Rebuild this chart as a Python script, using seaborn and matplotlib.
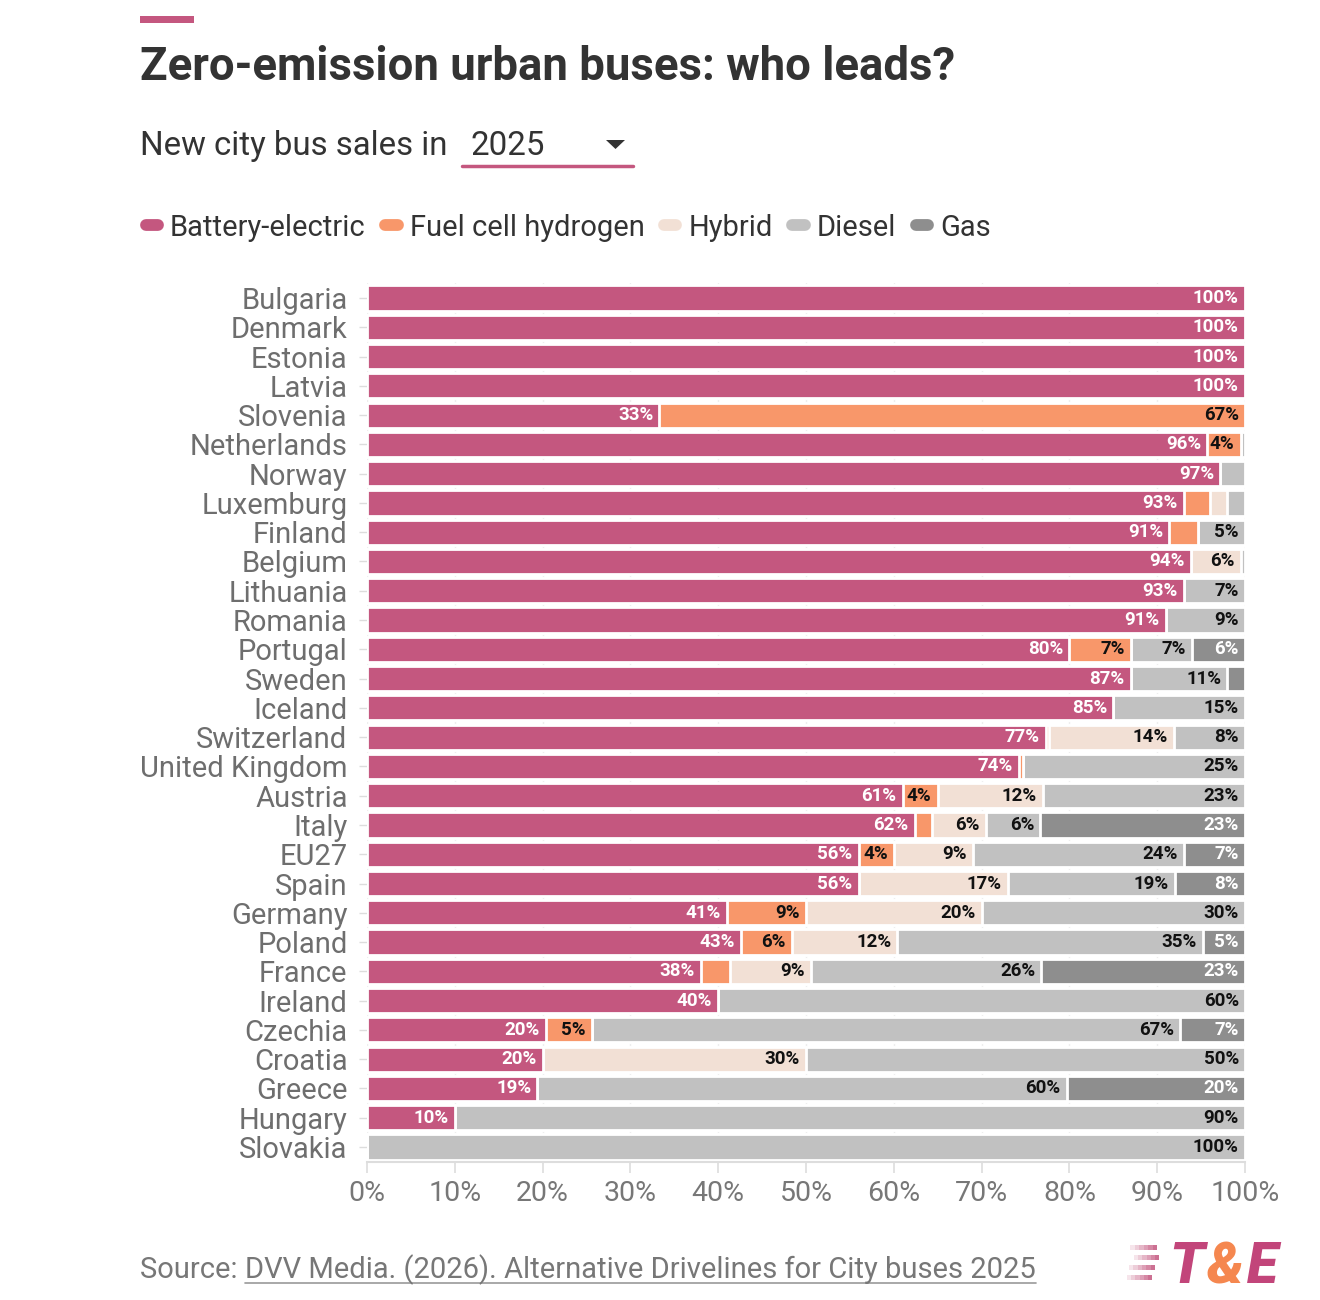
import numpy as np
import pandas as pd
import matplotlib.pyplot as plt
import seaborn as sns
from matplotlib.lines import Line2D
from matplotlib.patches import Rectangle

# ---- data (share of new city bus sales, %) ----
countries = ["Bulgaria", "Denmark", "Estonia", "Latvia", "Slovenia", "Netherlands",
             "Norway", "Luxemburg", "Finland", "Belgium", "Lithuania", "Romania",
             "Portugal", "Sweden", "Iceland", "Switzerland", "United Kingdom",
             "Austria", "Italy", "EU27", "Spain", "Germany", "Poland", "France",
             "Ireland", "Czechia", "Croatia", "Greece", "Hungary", "Slovakia"]
battery = [100, 100, 100, 100, 33.3, 95.7, 97.2, 93, 91.4, 93.8, 93, 91, 80, 87, 85,
           77.3, 74.3, 61, 62.4, 56, 56, 41, 42.6, 38, 40, 20.4, 20, 19.4, 10, 0]
fuel_cell = [0, 0, 0, 0, 66.7, 3.8, 0, 3, 3.3, 0, 0, 0, 7, 0, 0,
             0.4, 0.4, 4, 1.9, 4, 0, 9, 5.8, 3.4, 0, 5.2, 0, 0, 0, 0]
hybrid = [0, 0, 0, 0, 0, 0, 0, 2, 0, 5.7, 0, 0, 0, 0, 0,
          14.2, 0, 12, 6.2, 9, 17, 20, 12, 9.2, 0, 0, 30, 0, 0, 0]
diesel = [0, 0, 0, 0, 0, 0.5, 2.8, 2, 5.3, 0.5, 7, 9, 7, 11, 15,
          8.1, 25.3, 23, 6.2, 24, 19, 30, 34.8, 26.2, 60, 67, 50, 60.3, 90, 100]
gas = [0, 0, 0, 0, 0, 0, 0, 0, 0, 0, 0, 0, 6, 2, 0,
       0, 0, 0, 23.3, 7, 8, 0, 4.8, 23.2, 0, 7.4, 0, 20.3, 0, 0]

series_names = ["Battery-electric", "Fuel cell hydrogen", "Hybrid", "Diesel", "Gas"]
series_colors = ["#c4577f", "#f8976a", "#f2e0d5", "#c1c1c1", "#8e8e8e"]
label_colors = ["white", "#111111", "#111111", "#111111", "white"]
x_ticks = list(range(0, 101, 10))

df = pd.DataFrame({"country": countries, "Battery-electric": battery,
                   "Fuel cell hydrogen": fuel_cell, "Hybrid": hybrid,
                   "Diesel": diesel, "Gas": gas})
cum = df[series_names].cumsum(axis=1)

sns.set_theme(style="white")
plt.rcParams["font.family"] = ["Roboto", "DejaVu Sans"]

W, H = 1320, 1300
fig = plt.figure(figsize=(W / 100, H / 100), dpi=100)
ax = fig.add_axes([367 / W, 1 - 1161.6 / H, 878 / W, 878.2 / H])

def fx(px):
    return px / W

def fy(py):
    return 1 - py / H

# grid lines behind bars
for t in x_ticks:
    ax.axvline(t, color="#eeeeee", lw=1, zorder=0)

# stacked bars: draw cumulative totals from right-most series to left-most
for name, color in reversed(list(zip(series_names, series_colors))):
    sns.barplot(x=cum[name], y=df["country"], orient="h", color=color,
                saturation=1, width=0.86, edgecolor="white", linewidth=2,
                ax=ax, zorder=2)

# segment value labels
for i, row in df.iterrows():
    for name, lc in zip(series_names, label_colors):
        v = row[name]
        if v >= 3.75:
            ax.text(cum.loc[i, name] - 0.7, i, f"{round(v)}%", ha="right", va="center",
                    fontsize=13.5, fontweight="bold", color=lc, zorder=5)

ax.set_xlim(0, 100)
ax.set_ylim(len(countries) - 0.5, -0.5)
ax.set_xticks(x_ticks)
ax.set_xticklabels([f"{t}%" for t in x_ticks])
ax.set_xlabel("")
ax.set_ylabel("")
for s in ["top", "right", "left"]:
    ax.spines[s].set_visible(False)
ax.spines["bottom"].set_color("#dddddd")
ax.spines["bottom"].set_linewidth(1.5)
ax.tick_params(axis="x", bottom=True, length=8, width=1.2, color="#dddddd",
               labelsize=20.5, labelcolor="#777777", pad=5)
ax.tick_params(axis="y", left=True, length=6, width=1, color="#dddddd",
               labelsize=21, labelcolor="#6e6e6e", pad=8)

# ---- header ----
fig.add_artist(Rectangle((fx(140), fy(23)), fx(194) - fx(140), 7 / H,
                         transform=fig.transFigure, color="#c4577f", lw=0))
fig.text(fx(140), fy(80), "Zero-emission urban buses: who leads?", fontsize=32.8,
         fontweight="bold", color="#333333", va="baseline")
fig.text(fx(140), fy(155), "New city bus sales in", fontsize=23.8, color="#333333",
         va="baseline")
fig.text(fx(470), fy(155), "2025", fontsize=23.8, color="#333333", va="baseline")
fig.add_artist(Line2D([fx(462), fx(633)], [fy(166), fy(166)], transform=fig.transFigure,
                      color="#c4577f", lw=2.5, solid_capstyle="round"))
fig.add_artist(plt.Polygon([[fx(606), fy(140)], [fx(625), fy(140)], [fx(615.5), fy(149)]],
                           closed=True, transform=fig.transFigure, color="#333333", lw=0))

# ---- legend ----
fig.canvas.draw()
renderer = fig.canvas.get_renderer()
x = 140
for name, color in zip(series_names, series_colors):
    fig.add_artist(Line2D([fx(x + 5.5), fx(x + 18)], [fy(225), fy(225)],
                          transform=fig.transFigure, color=color, lw=8.5,
                          solid_capstyle="round"))
    t = fig.text(fx(x + 30), fy(225), name, fontsize=21, color="#333333",
                 va="center_baseline")
    bb = t.get_window_extent(renderer)
    x = bb.x1 + 14

# ---- source ----
s1 = fig.text(fx(140), fy(1278), "Source: ", fontsize=21, color="#777777", va="baseline")
bb = s1.get_window_extent(renderer)
s2 = fig.text(bb.x1 / W, fy(1278),
              "DVV Media. (2026). Alternative Drivelines for City buses 2025",
              fontsize=21, color="#777777", va="baseline")
bb2 = s2.get_window_extent(renderer)
fig.add_artist(Line2D([bb2.x0 / W, bb2.x1 / W], [fy(1283), fy(1283)],
                      transform=fig.transFigure, color="#999999", lw=1.2))

# ---- T&E logo ----
for k, (x0, x1) in enumerate([(1130, 1157), (1134, 1159), (1129, 1155), (1127, 1152)]):
    yy = 1245 + k * 10
    for j in range(6):
        seg = (x1 - x0) / 6
        fig.add_artist(Rectangle((fx(x0 + j * seg), fy(yy + 5)), seg / W, 5 / H,
                                 transform=fig.transFigure, color="#c4577f",
                                 alpha=0.15 + 0.14 * j, lw=0))
lx = 1169
for part, col in [("T", "#c2457a"), ("&", "#f5874f"), ("E", "#c2457a")]:
    t = fig.text(fx(lx), fy(1283), part, fontsize=41, fontweight="black",
                 fontstyle="italic", color=col, va="baseline")
    lx = t.get_window_extent(renderer).x1 + 3

fig.savefig("out.png", dpi=100)
